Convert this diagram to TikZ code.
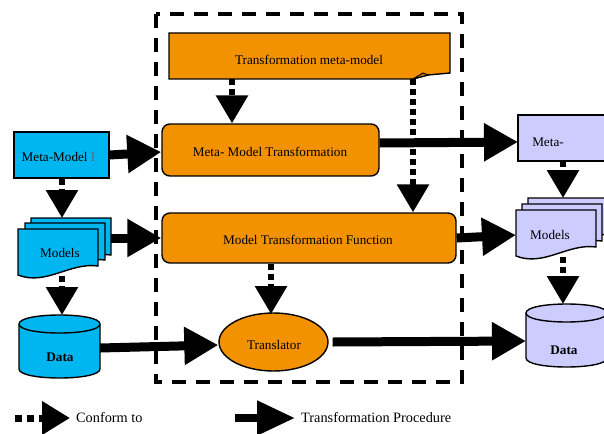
\documentclass[tikz,border=0pt]{standalone}
\usepackage{fontspec}
\setmainfont{Liberation Serif}
\usetikzlibrary{arrows.meta,shapes.geometric}
\definecolor{org}{RGB}{243,146,0}
\definecolor{orgd}{RGB}{205,115,0}
\definecolor{cyanb}{RGB}{0,182,240}
\definecolor{lav}{RGB}{204,204,255}
\tikzset{
  shapeline/.style={draw=black, line width=1.4pt},
  box/.style={shapeline, inner sep=0pt},
  lbl/.style={inner sep=0pt, font=\fontsize{13.2}{15}\selectfont},
  legendlbl/.style={inner sep=0pt, anchor=west, font=\fontsize{14.3}{16}\selectfont},
  trans/.style={line width=9pt, -{Triangle[length=34pt,width=36pt]}},
  conf/.style={line width=6pt, dash pattern=on 6pt off 4pt, -{Triangle[length=28pt,width=31pt]}},
  translegend/.style={line width=8pt, -{Triangle[length=38pt,width=33pt]}},
  conflegend/.style={line width=7pt, dash pattern=on 7pt off 5pt, -{Triangle[length=28pt,width=32pt]}},
  dashbox/.style={line width=3.5pt, dash pattern=on 14pt off 10pt},
  docsheet/.pic={\path[pic actions] (0,0) -- (80,0) -- (80,37) .. controls (52,33) and (28,57) .. (0,46) -- cycle;},
  cylshape/.pic={\path[pic actions] (0,9) -- (0,54) .. controls (0,66) and (81,66) .. (81,54) -- (81,9) .. controls (81,-3) and (0,-3) .. (0,9) -- cycle;
                 \path[pic actions] (0,9) .. controls (0,21) and (81,21) .. (81,9);}
}
\begin{document}
\begin{tikzpicture}[x=1pt,y=-1pt]
\useasboundingbox (0,0) rectangle (604,433);
\clip (0,0) rectangle (604,433);

% dashed frame
\draw[dashbox] (156,14) rectangle (462,382);

% Transformation meta-model (note with folded corner)
\path[shapeline, fill=org] (169,33) -- (450,33) -- (450,73) -- (428,75) -- (413,79) -- (169,79) -- cycle;
\path[shapeline, line width=1pt, fill=orgd] (413,79) -- (423,73) -- (428,75) -- cycle;
\node[lbl] (tmmt) at (309,60) {Transformation meta-model};
\coordinate (tmmA) at (232,79);
\coordinate (tmmB) at (413,79);

% central boxes
\node[box, fill=org, rounded corners=8pt, minimum width=217pt, minimum height=52pt] (mmt) at (270.5,150) {};
\node[lbl] (mmtt) at (270,152) {Meta- Model Transformation};
\node[box, fill=org, rounded corners=8pt, minimum width=294pt, minimum height=50pt] (mtf) at (309,238) {};
\node[lbl] (mtft) at (308,240) {Model Transformation Function};
\node[box, ellipse, fill=org, minimum width=109pt, minimum height=58pt] (tr) at (273.5,342) {};
\node[lbl] (trt) at (274,345) {Translator};

% left side (blue)
\node[box, fill=cyanb, minimum width=95pt, minimum height=46pt] (mmL) at (61.5,155) {};
\node[lbl] (mmLt) at (58.5,157) {Meta-Model {\color{black!60}I}};
\pic[shapeline, fill=cyanb] at (31,218) {docsheet};
\pic[shapeline, fill=cyanb] at (25,223) {docsheet};
\pic[shapeline, fill=cyanb] at (18,229) {docsheet};
\node[lbl] (modLt) at (60,253) {Models};
\coordinate (modLtop) at (62,218);
\coordinate (modLbot) at (62,276);
\coordinate (modLe) at (111,238);
\pic[shapeline, fill=cyanb] at (19,315) {cylshape};
\node[lbl, font=\fontsize{13.2}{15}\selectfont\bfseries] (dataLt) at (60,357) {Data};
\coordinate (dataLtop) at (62,315);
\coordinate (dataLe) at (100,348);

% right side (lavender)
\path[shapeline, fill=lav] (518,115) rectangle (630,161);
\node[lbl] (mmRt) at (548,142) {Meta-};
\coordinate (mmRw) at (518,142);
\coordinate (mmRbot) at (563,161);
\pic[shapeline, fill=lav] at (528,198) {docsheet};
\pic[shapeline, fill=lav] at (522,204) {docsheet};
\pic[shapeline, fill=lav] at (516,210) {docsheet};
\node[lbl] (modRt) at (550,235) {Models};
\coordinate (modRtop) at (563,198);
\coordinate (modRbot) at (563,257);
\coordinate (modRw) at (516,235);
\pic[shapeline, fill=lav] at (526,304) {cylshape};
\node[lbl, font=\fontsize{13.2}{15}\selectfont\bfseries] (dataRt) at (564,350) {Data};
\coordinate (dataRtop) at (563,304);
\coordinate (dataRw) at (526,341);

% transformation procedure arrows
\draw[trans] (mmL.east) -- ([yshift=-2pt]mmt.west);
\draw[trans] (modLe) -- (mtf.west);
\draw[trans] (dataLe) -- ([yshift=-3pt]tr.west);
\draw[trans] ([yshift=7pt]mmt.east) -- (mmRw);
\draw[trans] (mtf.east) -- (modRw);
\draw[trans] ([xshift=4pt]tr.east) -- (dataRw);

% conform-to arrows
\draw[conf] (tmmA) -- (tmmA |- mmt.north);
\draw[conf] (tmmB) -- (tmmB |- mtf.north);
\draw[conf] (mmL.south -| modLtop) -- (modLtop);
\draw[conf] (modLbot) -- (dataLtop);
\draw[conf] (mtf.south -| 271,0) -- (271,314);
\draw[conf] (mmRbot) -- (modRtop);
\draw[conf] (modRbot) -- (dataRtop);

% legend
\coordinate (lg1a) at (15,418);
\coordinate (lg1b) at (70,418);
\coordinate (lg2a) at (235,418);
\coordinate (lg2b) at (295,418);
\draw[conflegend] (lg1a) -- (lg1b);
\node[legendlbl] (lgt1) at (76,418) {Conform to};
\draw[translegend] (lg2a) -- (lg2b);
\node[legendlbl] (lgt2) at (301,418) {Transformation Procedure};
\end{tikzpicture}
\end{document}
